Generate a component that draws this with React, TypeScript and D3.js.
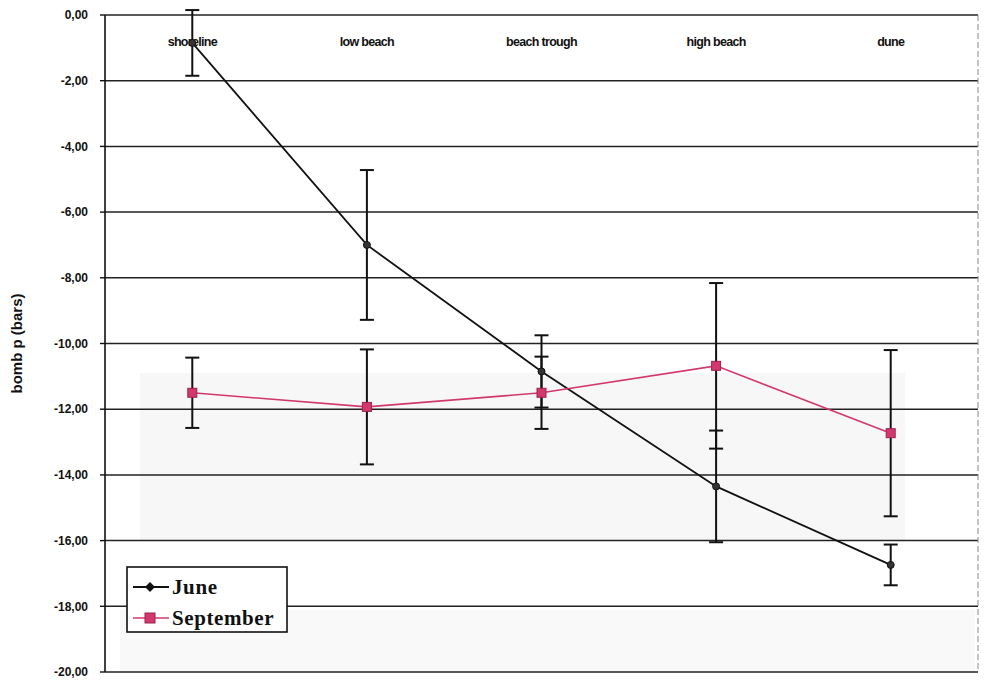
import React from 'react';
import * as d3 from 'd3';

// categories along the beach profile
const zones = ['shoreline', 'low beach', 'beach trough', 'high beach', 'dune'];

// mean bomb pressure (bars) and error half-widths
const juneMean = [-0.85, -7.0, -10.85, -14.35, -16.74];
const juneErr = [1.0, 2.28, 1.1, 1.7, 0.62];
const septMean = [-11.5, -11.93, -11.5, -10.68, -12.73];
const septErr = [1.07, 1.75, 1.1, 2.52, 2.53];

const yTicks = [0, -2, -4, -6, -8, -10, -12, -14, -16, -18, -20];

const W = 986;
const H = 686;
const left = 105;
const right = 978;
const top = 15;
const bottom = 672;

const PINK = '#d2386e';
const SERIF = "'Liberation Serif', 'DejaVu Serif', serif";

const fmt = (v: number) => v.toFixed(2).replace('.', ',');

export default function App() {
  const x = d3.scaleBand<string>().domain(zones).range([left, right]);
  const y = d3.scaleLinear().domain([-20, 0]).range([bottom, top]);
  const cx = (z: string) => (x(z) as number) + x.bandwidth() / 2;

  const line = d3
    .line<number>()
    .x((_, i) => cx(zones[i]))
    .y((d) => y(d));

  const errBars = (means: number[], errs: number[], key: string) =>
    means.map((m, i) => {
      const px = cx(zones[i]);
      const y0 = y(Math.min(m + errs[i], 0.15));
      const y1 = y(m - errs[i]);
      return (
        <g key={key + i} stroke="#111" strokeWidth={2}>
          <line x1={px} x2={px} y1={y0} y2={y1} />
          <line x1={px - 7} x2={px + 7} y1={y0} y2={y0} />
          <line x1={px - 7} x2={px + 7} y1={y1} y2={y1} />
        </g>
      );
    });

  return (
    <svg
      width={W}
      height={H}
      style={{ position: 'absolute', left: 0, top: 0, background: '#fff' }}
      fontFamily="'Liberation Sans', Arial, sans-serif"
    >
      {/* faint scan shading */}
      <rect x={140} y={y(-10.9)} width={765} height={y(-16) - y(-10.9)} fill="#f7f7f7" />
      <rect x={120} y={y(-18.1)} width={855} height={y(-20) - y(-18.1)} fill="#f9f9f9" />

      {/* gridlines */}
      {yTicks.map((t) => (
        <line key={'g' + t} x1={left} x2={right} y1={y(t)} y2={y(t)} stroke="#222" strokeWidth={1.5} />
      ))}
      <line x1={right} x2={right} y1={top} y2={bottom} stroke="#888" strokeWidth={1} strokeDasharray="6 3" />
      <line x1={left} x2={left} y1={top} y2={bottom} stroke="#111" strokeWidth={1.6} />

      {/* y ticks + labels */}
      {yTicks.map((t) => (
        <g key={'t' + t}>
          <line x1={left - 5} x2={left} y1={y(t)} y2={y(t)} stroke="#111" strokeWidth={1.4} />
          <text x={88} y={y(t)} dy="0.35em" textAnchor="end" fontSize={12} fontWeight="bold" fill="#111">
            {fmt(t)}
          </text>
        </g>
      ))}

      <text
        transform={`translate(22,${(top + bottom) / 2}) rotate(-90)`}
        textAnchor="middle"
        fontSize={15}
        fontWeight="bold"
        fill="#111"
      >
        bomb p (bars)
      </text>

      {/* category labels at top */}
      {zones.map((z) => (
        <text
          key={'c' + z}
          x={cx(z)}
          y={46}
          textAnchor="middle"
          fontSize={12.5}
          fontWeight="bold"
          fill="#111"
          letterSpacing={-0.7}
        >
          {z}
        </text>
      ))}

      {/* error bars */}
      {errBars(juneMean, juneErr, 'je')}
      {errBars(septMean, septErr, 'se')}

      {/* series */}
      <path d={line(juneMean) || ''} fill="none" stroke="#111" strokeWidth={1.8} />
      <path d={line(septMean) || ''} fill="none" stroke={PINK} strokeWidth={1.6} />

      {juneMean.map((m, i) => (
        <circle key={'jm' + i} cx={cx(zones[i])} cy={y(m)} r={3.5} fill="#333" stroke="#111" strokeWidth={1} />
      ))}
      {septMean.map((m, i) => (
        <rect
          key={'sm' + i}
          x={cx(zones[i]) - 4.5}
          y={y(m) - 4.5}
          width={9}
          height={9}
          fill={PINK}
          stroke="#a02050"
          strokeWidth={1}
        />
      ))}

      {/* legend */}
      <g transform="translate(127,567)">
        <rect width={160} height={65} fill="#fff" stroke="#111" strokeWidth={1.6} />
        <line x1={6} x2={42} y1={20} y2={20} stroke="#111" strokeWidth={2} />
        <path d="M23,15 L28,20 L23,25 L18,20 Z" fill="#111" />
        <text x={45} y={27} fontFamily={SERIF} fontSize={21} fontWeight="bold" fill="#111" letterSpacing={0.6}>
          June
        </text>
        <line x1={6} x2={42} y1={51} y2={51} stroke={PINK} strokeWidth={1.6} />
        <rect x={18} y={46} width={10} height={10} fill={PINK} stroke="#a02050" />
        <text x={45} y={58} fontFamily={SERIF} fontSize={21} fontWeight="bold" fill="#111" letterSpacing={0.6}>
          September
        </text>
      </g>
    </svg>
  );
}
